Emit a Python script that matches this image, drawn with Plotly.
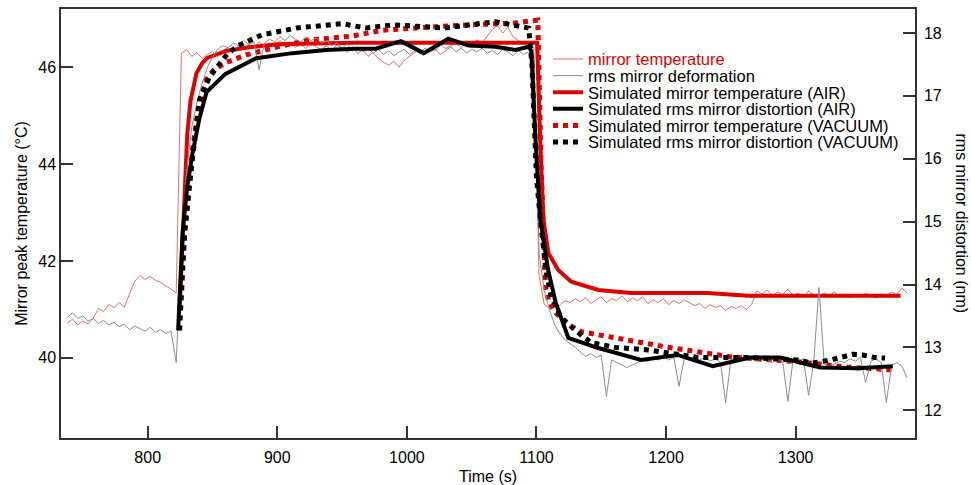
import plotly.graph_objects as go

# ---------------- data ----------------
t_meas = [738, 742, 746, 750, 754, 758, 762, 766, 770, 774,
          778, 782, 786, 790, 794, 798, 802, 806, 810, 814,
          818, 822, 826, 830, 834, 838, 842, 846, 850, 854,
          858, 862, 866, 870, 874, 878, 882, 886, 890, 894,
          898, 902, 906, 910, 914, 918, 922, 926, 930, 934,
          938, 942, 946, 950, 954, 958, 962, 966, 970, 974,
          978, 982, 986, 990, 994, 998, 1002, 1006, 1010, 1014,
          1018, 1022, 1026, 1030, 1034, 1038, 1042, 1046, 1050, 1054,
          1058, 1062, 1066, 1070, 1074, 1078, 1082, 1086, 1090, 1094,
          1098, 1102, 1106, 1110, 1114, 1118, 1122, 1126, 1130, 1134,
          1138, 1142, 1146, 1150, 1154, 1158, 1162, 1166, 1170, 1174,
          1178, 1182, 1186, 1190, 1194, 1198, 1202, 1206, 1210, 1214,
          1218, 1222, 1226, 1230, 1234, 1238, 1242, 1246, 1250, 1254,
          1258, 1262, 1266, 1270, 1274, 1278, 1282, 1286, 1290, 1294,
          1298, 1302, 1306, 1310, 1314, 1318, 1322, 1326, 1330, 1334,
          1338, 1342, 1346, 1350, 1354, 1358, 1362, 1366, 1370, 1374,
          1378, 1382, 1386]

mirror_temp = [40.72, 40.80, 40.68, 40.76, 40.70, 40.82, 41.02, 40.96, 41.10, 41.04,
               41.14, 41.05, 41.32, 41.58, 41.70, 41.62, 41.68, 41.60, 41.56, 41.48,
               41.42, 41.34, 46.28, 46.36, 46.22, 46.30, 46.18, 46.26, 46.32, 46.22,
               46.34, 46.40, 46.30, 46.44, 46.36, 46.48, 46.40, 46.52, 46.44, 46.50,
               46.42, 46.55, 46.46, 46.52, 46.40, 46.48, 46.38, 46.50, 46.42, 46.36,
               46.44, 46.34, 46.46, 46.38, 46.30, 46.42, 46.28, 46.36, 46.22, 46.30,
               46.18, 46.10, 46.04, 46.12, 46.00, 46.14, 46.22, 46.30, 46.36, 46.28,
               46.40, 46.34, 46.46, 46.38, 46.44, 46.50, 46.40, 46.52, 46.46, 46.56,
               46.50, 46.64, 46.78, 46.86, 46.70, 46.82, 46.62, 46.55, 46.48, 46.52,
               46.40, 41.70, 41.10, 41.02, 41.12, 41.08, 41.18, 41.14, 41.22, 41.16,
               41.24, 41.12, 41.20, 41.26, 41.14, 41.22, 41.18, 41.28, 41.16, 41.24,
               41.18, 41.26, 41.12, 41.20, 41.14, 41.22, 41.10, 41.18, 41.12, 41.20,
               41.14, 41.08, 41.12, 41.02, 41.10, 41.04, 41.08, 40.98, 41.06, 41.02,
               41.08, 41.00, 41.10, 41.38, 41.32, 41.40, 41.28, 41.36, 41.30, 41.42,
               41.28, 41.34, 41.26, 41.38, 41.30, 41.24, 41.34, 41.28, 41.36, 41.26,
               41.32, 41.24, 41.30, 41.26, 41.34, 41.28, 41.24, 41.32, 41.28, 41.36,
               41.30, 41.44, 41.34]

rms_deform = [13.48, 13.55, 13.46, 13.50, 13.42, 13.46, 13.38, 13.43, 13.36, 13.40,
              13.33, 13.37, 13.28, 13.34, 13.30, 13.26, 13.32, 13.24, 13.28, 13.22,
              13.26, 12.76, 14.60, 15.80, 16.50, 16.90, 17.20, 17.45, 17.62, 17.74,
              17.80, 17.76, 17.84, 17.80, 17.88, 17.82, 17.86, 17.42, 17.84, 17.90,
              17.86, 17.94, 17.88, 17.96, 17.90, 17.86, 17.94, 17.88, 17.92, 17.84,
              17.88, 17.80, 17.84, 17.76, 17.82, 17.72, 17.78, 17.70, 17.76, 17.68,
              17.74, 17.66, 17.72, 17.64, 17.70, 17.74, 17.66, 17.72, 17.68, 17.76,
              17.70, 17.74, 17.66, 17.72, 17.78, 17.70, 17.76, 17.68, 17.74, 17.70,
              17.76, 17.68, 17.72, 17.66, 17.74, 17.70, 17.64, 17.72, 17.66, 17.70,
              17.62, 14.50, 13.90, 13.60, 13.36, 13.22, 13.12, 13.06, 13.00, 12.92,
              12.86, 12.90, 12.84, 12.88, 12.22, 12.80, 12.76, 12.72, 12.68, 12.72,
              12.76, 12.80, 12.78, 12.84, 12.80, 12.86, 12.80, 12.84, 12.38, 12.82,
              12.80, 12.86, 12.80, 12.84, 12.78, 12.82, 12.76, 12.12, 12.80, 12.84,
              12.80, 12.86, 12.82, 12.78, 12.84, 12.80, 12.76, 12.82, 12.78, 12.14,
              12.80, 12.78, 12.82, 12.24, 12.78, 13.95, 12.74, 12.70, 12.74, 12.78,
              12.76, 12.82, 12.78, 12.84, 12.44, 12.78, 12.82, 12.76, 12.12, 12.72,
              12.76, 12.70, 12.52]

t_sim_temp_air = [824.6, 826.5, 828.5, 830.5, 833.0, 837.7, 842.0, 846.0, 860.0, 878.5,
                  900.0, 930.0, 960.0, 1000.0, 1050.0, 1100.5, 1103.0, 1105.4, 1109.2, 1116.9,
                  1126.9, 1147.7, 1173.0, 1200.0, 1232.0, 1263.0, 1300.0, 1340.0, 1381.0]
sim_temp_air = [40.98, 42.20, 43.50, 44.60, 45.30, 45.88, 46.08, 46.19, 46.33, 46.41,
                46.47, 46.49, 46.50, 46.50, 46.50, 46.50, 44.40, 42.85, 42.16, 41.81,
                41.57, 41.40, 41.34, 41.34, 41.34, 41.28, 41.28, 41.28, 41.28]

t_sim_dist_air = [823.5, 826.9, 830.5, 834.6, 840.0, 845.4, 860.0, 883.8, 911.5, 937.7,
                  960.0, 976.0, 995.4, 1013.0, 1032.0, 1047.7, 1068.5, 1083.8, 1093.8, 1096.0,
                  1099.5, 1103.0, 1109.0, 1115.0, 1124.6, 1147.7, 1180.8, 1209.0, 1236.0, 1265.0,
                  1288.0, 1319.0, 1348.0, 1375.0]
sim_dist_air = [13.27, 14.82, 15.55, 16.09, 16.65, 17.06, 17.35, 17.60, 17.68, 17.73,
                17.75, 17.75, 17.87, 17.68, 17.91, 17.80, 17.78, 17.73, 17.78, 17.72,
                16.20, 15.03, 14.23, 13.70, 13.15, 12.99, 12.80, 12.88, 12.70, 12.84,
                12.84, 12.68, 12.67, 12.70]

t_sim_temp_vac = [824.6, 828.5, 834.6, 840.0, 845.4, 851.0, 861.0, 876.0, 899.0, 925.0,
                  958.0, 981.0, 1032.0, 1058.0, 1084.0, 1101.0, 1103.5, 1106.9, 1109.2, 1113.0,
                  1122.3, 1134.6, 1160.8, 1199.0, 1250.0, 1301.5, 1340.0, 1377.0]
sim_temp_vac = [40.99, 42.60, 44.30, 45.30, 45.75, 45.94, 46.10, 46.25, 46.41, 46.56,
                46.64, 46.76, 46.85, 46.87, 46.91, 46.97, 44.00, 41.46, 41.20, 40.99,
                40.72, 40.54, 40.41, 40.23, 40.02, 39.92, 39.81, 39.75]

t_sim_dist_vac = [824.6, 828.5, 833.8, 840.0, 847.7, 855.0, 862.0, 870.0, 888.0, 915.0,
                  950.0, 968.0, 990.0, 1029.0, 1068.0, 1081.0, 1094.0, 1096.5, 1100.0, 1103.8,
                  1107.7, 1111.5, 1119.0, 1130.0, 1142.0, 1160.8, 1186.0, 1224.6, 1263.0, 1301.5,
                  1313.0, 1327.0, 1335.0, 1344.0, 1351.5, 1361.0, 1369.0]
sim_dist_vac = [13.27, 14.82, 15.87, 16.94, 17.30, 17.50, 17.68, 17.80, 17.97, 18.08,
                18.15, 18.08, 18.13, 18.08, 18.18, 18.13, 18.08, 17.50, 15.70, 14.87,
                14.18, 13.80, 13.48, 13.27, 13.08, 13.00, 12.96, 12.84, 12.84, 12.80,
                12.75, 12.80, 12.84, 12.89, 12.88, 12.84, 12.83]

x_ticks = [800, 900, 1000, 1100, 1200, 1300]
y_left_ticks = [40, 42, 44, 46]
y_right_ticks = [12, 13, 14, 15, 16, 17, 18]

names = ["mirror temperature", "rms mirror deformation",
         "Simulated mirror temperature (AIR)", "Simulated rms mirror distortion (AIR)",
         "Simulated mirror temperature (VACUUM)", "Simulated rms mirror distortion (VACUUM)"]

# ---------------- styling ----------------
RED = "#e00000"
FONT = "Liberation Sans, Arial, Helvetica, sans-serif"
AX = "#333333"
W, H = 971, 485
ML, MR, MT, MB = 61, 56, 9, 47

fig = go.Figure()
fig.add_trace(go.Scatter(x=t_meas, y=mirror_temp, mode="lines", name=names[0],
                         line=dict(color="rgba(224,60,60,0.75)", width=1), yaxis="y", legend="legend"))
fig.add_trace(go.Scatter(x=t_meas, y=rms_deform, mode="lines", name=names[1],
                         line=dict(color="#8c8c8c", width=1), yaxis="y2", legend="legend2"))
fig.add_trace(go.Scatter(x=t_sim_temp_air, y=sim_temp_air, mode="lines", name=names[2],
                         line=dict(color=RED, width=4), yaxis="y", legend="legend3"))
fig.add_trace(go.Scatter(x=t_sim_dist_air, y=sim_dist_air, mode="lines", name=names[3],
                         line=dict(color="black", width=4), yaxis="y2", legend="legend4"))
fig.add_trace(go.Scatter(x=t_sim_temp_vac, y=sim_temp_vac, mode="lines", name=names[4],
                         line=dict(color=RED, width=5, dash="5px,5px"), yaxis="y", legend="legend5"))
fig.add_trace(go.Scatter(x=t_sim_dist_vac, y=sim_dist_vac, mode="lines", name=names[5],
                         line=dict(color="black", width=5, dash="5px,5px"), yaxis="y2", legend="legend6"))

plot_w = W - ML - MR
plot_h = H - MT - MB


def px_x(p):
    return (p - ML) / plot_w


def px_y(p):
    return (H - MB - p) / plot_h


legend_rows = [59.3 + 16.6 * i for i in range(6)]
legend_keys = ["legend", "legend2", "legend3", "legend4", "legend5", "legend6"]
legend_layout = {}
for i, key in enumerate(legend_keys):
    legend_layout[key] = dict(
        x=px_x(548), y=px_y(legend_rows[i]), xanchor="left", yanchor="middle",
        bgcolor="rgba(0,0,0,0)", borderwidth=0, itemwidth=30, visible=True,
        font=dict(family=FONT, size=16.5, color=RED if i == 0 else "black"),
    )

axis_common = dict(ticks="inside", ticklen=12, tickwidth=1.5, tickcolor=AX,
                   showline=True, linecolor=AX, linewidth=1.5,
                   showgrid=False, zeroline=False, automargin=False,
                   tickfont=dict(family=FONT, size=16, color="black"))

fig.update_layout(
    width=W, height=H,
    showlegend=True,
    margin=dict(l=ML, r=MR, t=MT, b=MB, pad=0, autoexpand=False),
    paper_bgcolor="white", plot_bgcolor="white",
    font=dict(family=FONT, size=16, color="black"),
    xaxis=dict(range=[733.1, 1392.1], tickvals=x_ticks, mirror=True, ticklabelstandoff=4,
               title=dict(text="Time (s)", standoff=14, font=dict(family=FONT, size=16)),
               **axis_common),
    yaxis=dict(range=[38.347, 47.198], tickvals=y_left_ticks, mirror=True, ticklabelstandoff=0,
               title=dict(text="Mirror peak temperature (°C)", standoff=7, font=dict(family=FONT, size=16)),
               **axis_common),
    yaxis2=dict(range=[11.559, 18.382], tickvals=y_right_ticks, overlaying="y", side="right",
                anchor="x", ticklabelstandoff=4, **axis_common),
    annotations=[dict(text="rms mirror distortion (nm)", xref="paper", yref="paper",
                      x=px_x(961), y=0.5, textangle=90, showarrow=False,
                      xanchor="center", yanchor="middle",
                      font=dict(family=FONT, size=16, color="black"))],
    **legend_layout,
)

fig.write_html("out.html", config={"displayModeBar": False},
               post_script="document.body.style.margin='0px';")
